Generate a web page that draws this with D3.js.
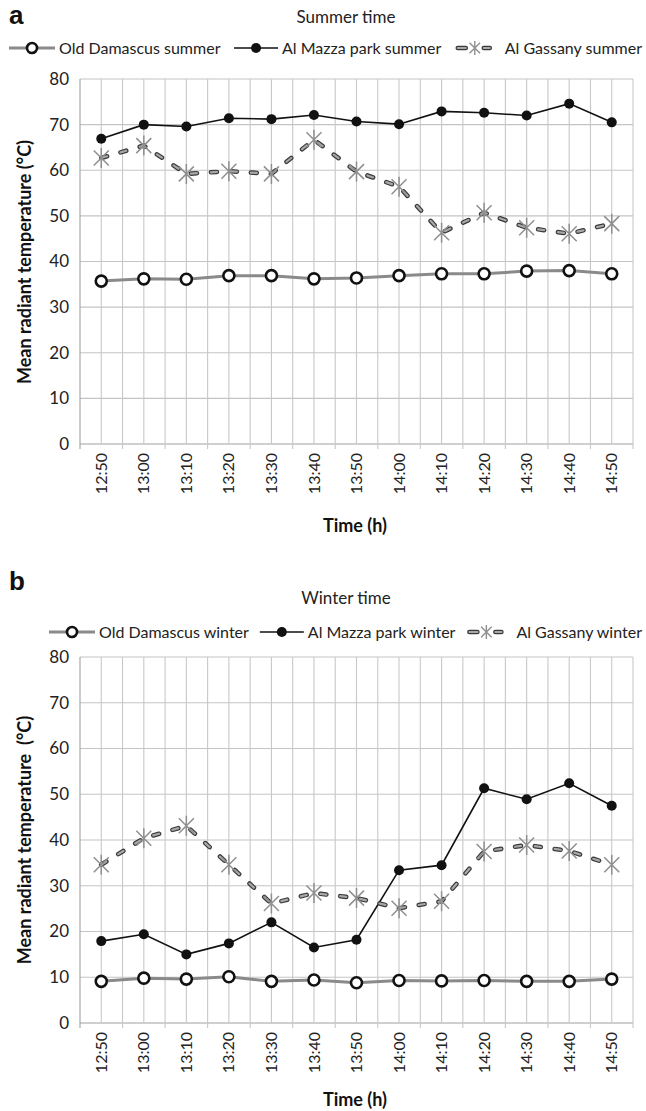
<!DOCTYPE html>
<html><head><meta charset="utf-8">
<script src="https://cdn.jsdelivr.net/npm/d3@7"></script>
<style>
html,body{margin:0;padding:0;background:#fff;}
svg{display:block;font-family:Lato, "Open Sans", sans-serif;}
</style></head>
<body><svg id="c" width="646" height="1111"></svg>
<script>
const times = ["12:50","13:00","13:10","13:20","13:30","13:40","13:50","14:00","14:10","14:20","14:30","14:40","14:50"];
const yTicks = [0,10,20,30,40,50,60,70,80];

const oldDamascusSummer = [35.7,36.2,36.1,36.9,36.9,36.2,36.4,36.9,37.3,37.3,37.9,38.0,37.3];
const alMazzaSummer     = [66.9,70.0,69.6,71.4,71.2,72.1,70.7,70.1,72.9,72.6,72.0,74.6,70.5];
const alGassanySummer   = [62.7,65.4,59.2,59.8,59.2,66.7,59.7,56.4,46.3,50.7,47.4,46.1,48.3];

const oldDamascusWinter = [9.1,9.8,9.6,10.1,9.1,9.4,8.8,9.3,9.2,9.3,9.1,9.1,9.6];
const alMazzaWinter     = [17.9,19.4,15.0,17.4,22.0,16.5,18.2,33.4,34.5,51.3,48.9,52.4,47.5];
const alGassanyWinter   = [34.6,40.4,43.1,34.6,26.1,28.4,27.3,25.1,26.6,37.5,38.9,37.6,34.6];

const summerNames = ["Old Damascus summer","Al Mazza park summer","Al Gassany summer"];
const winterNames = ["Old Damascus winter","Al Mazza park winter","Al Gassany winter"];

const svg = d3.select("#c");
const DASH = "6,14";

function starPath(r){
  const d = r*0.75;
  return `M${-d},${-d}L${d},${d}M${-d},${d}L${d},${-d}M0,${-r}L0,${r}`;
}

function drawPanel(o){
  const g = svg.append("g");
  const L = 80, R = 633;
  const x = d3.scaleBand().domain(times).range([L,R]);
  const y = d3.scaleLinear().domain([0,80]).range([o.bottom,o.top]);
  const bw = x.bandwidth();

  g.append("text").attr("x",9).attr("y",o.letterY).attr("font-family","Liberation Sans, Arial, sans-serif")
    .attr("font-weight","bold").attr("font-size",26).attr("fill","#111").text(o.letter);
  g.append("text").attr("x",346).attr("y",o.titleY).attr("text-anchor","middle")
    .attr("font-size",17).attr("fill","#222").text(o.title);

  const grid = g.append("g");
  yTicks.forEach(t=>{
    grid.append("line").attr("x1",L).attr("x2",R).attr("y1",y(t)).attr("y2",y(t))
      .attr("stroke", t===0 ? "#a0a0a0" : "#c4c4c4").attr("stroke-width",1.2);
  });
  const vx = [];
  times.forEach(t=>{ vx.push(x(t)); vx.push(x(t)+bw/2); });
  vx.push(R);
  vx.forEach((vv,i)=>{
    grid.append("line").attr("x1",vv).attr("x2",vv).attr("y1",o.top).attr("y2",o.bottom + (i%2===0 ? 5 : 0))
      .attr("stroke", i===0 ? "#a0a0a0" : "#c8c8c8").attr("stroke-width",1.1);
  });

  const ya = g.append("g").attr("transform",`translate(${L},0)`)
    .call(d3.axisLeft(y).tickValues(yTicks).tickSize(0).tickPadding(11));
  ya.select(".domain").remove();
  ya.selectAll("text").attr("font-size",17).attr("fill","#222").attr("font-family","Lato, sans-serif");

  const xa = g.append("g").attr("transform",`translate(0,${o.bottom})`)
    .call(d3.axisBottom(x).tickSize(0).tickPadding(0));
  xa.select(".domain").remove();
  xa.selectAll("text").attr("font-size",16).attr("fill","#222").attr("font-family","Lato, sans-serif")
    .attr("text-anchor","end").attr("transform","translate(0,9) rotate(-90)").attr("dy","0.35em").attr("dx",0);

  g.append("text").attr("x",355).attr("y",o.xTitleY).attr("text-anchor","middle")
    .attr("font-weight","bold").attr("font-size",18).attr("fill","#111").text("Time (h)");
  g.append("text").attr("transform",`translate(31,${o.yTitleY}) rotate(-90)`).attr("text-anchor","middle")
    .attr("font-weight","bold").attr("font-size",18).attr("fill","#111").attr("xml:space","preserve")
    .text(o.yTitle);

  const cx = (d,i)=> x(times[i]) + bw/2;
  const line = d3.line().x((d,i)=>cx(d,i)).y(d=>y(d));

  g.append("path").attr("d",line(o.s1)).attr("fill","none").attr("stroke","#8a8a8a").attr("stroke-width",3);
  g.append("path").attr("d",line(o.s2)).attr("fill","none").attr("stroke","#111").attr("stroke-width",1.6);
  g.append("path").attr("d",line(o.s3)).attr("fill","none").attr("stroke","#3a3a3a").attr("stroke-width",4.6)
    .attr("stroke-dasharray",DASH).attr("stroke-linecap","round");
  g.append("path").attr("d",line(o.s3)).attr("fill","none").attr("stroke","#a8a8a8").attr("stroke-width",2.2)
    .attr("stroke-dasharray",DASH).attr("stroke-linecap","round");

  g.selectAll(".m1").data(o.s1).join("circle").attr("cx",cx).attr("cy",d=>y(d)).attr("r",5.5)
    .attr("fill","#fff").attr("stroke","#111").attr("stroke-width",2.6);
  g.selectAll(".m2").data(o.s2).join("circle").attr("cx",cx).attr("cy",d=>y(d)).attr("r",5)
    .attr("fill","#111");
  g.selectAll(".m3").data(o.s3).join("path").attr("transform",(d,i)=>`translate(${cx(d,i)},${y(d)})`)
    .attr("d",starPath(10)).attr("stroke","#8f8f8f").attr("stroke-width",1.5).attr("fill","none");

  // legend: measure, then distribute between start and end
  const lg = g.append("g").attr("transform",`translate(0,${o.legendY})`);
  const symW = [46,44,38], symGap = [4,4,12];
  const texts = o.names.map(nm => lg.append("text").attr("y",0).attr("dy","0.35em").attr("font-size",16)
      .attr("fill","#222").text(nm));
  const widths = texts.map(t => t.node().getComputedTextLength());
  const used = d3.sum(widths) + d3.sum(symW) + d3.sum(symGap);
  const gap = (o.legendEnd - o.legendStart - used) / 2;
  let xs = o.legendStart;
  o.names.forEach((nm,k)=>{
    const sx = xs;
    if(k===0){
      lg.append("line").attr("x1",sx).attr("x2",sx+46).attr("y1",0).attr("y2",0).attr("stroke","#8a8a8a").attr("stroke-width",3);
      lg.append("circle").attr("cx",sx+23).attr("cy",0).attr("r",5).attr("fill","#fff").attr("stroke","#111").attr("stroke-width",2.6);
    } else if(k===1){
      lg.append("line").attr("x1",sx).attr("x2",sx+44).attr("y1",0).attr("y2",0).attr("stroke","#111").attr("stroke-width",1.6);
      lg.append("circle").attr("cx",sx+22).attr("cy",0).attr("r",5).attr("fill","#111");
    } else {
      [[sx+3,sx+11],[sx+29,sx+35]].forEach(s=>{
        lg.append("line").attr("x1",s[0]).attr("x2",s[1]).attr("y1",0).attr("y2",0).attr("stroke","#3a3a3a").attr("stroke-width",4.6).attr("stroke-linecap","round");
        lg.append("line").attr("x1",s[0]).attr("x2",s[1]).attr("y1",0).attr("y2",0).attr("stroke","#a8a8a8").attr("stroke-width",2.2).attr("stroke-linecap","round");
      });
      lg.append("path").attr("transform",`translate(${sx+20},0)`).attr("d",starPath(7)).attr("stroke","#8f8f8f").attr("stroke-width",1.4).attr("fill","none");
    }
    texts[k].attr("x", sx + symW[k] + symGap[k]);
    xs = sx + symW[k] + symGap[k] + widths[k] + gap;
  });
}

drawPanel({letter:"a", letterY:24, title:"Summer time", titleY:23, legendY:48, legendStart:9, legendEnd:642,
  names:summerNames,
  top:79, bottom:444, xTitleY:532, yTitleY:262, yTitle:"Mean radiant temperature (°C)",
  s1:oldDamascusSummer, s2:alMazzaSummer, s3:alGassanySummer});

drawPanel({letter:"b", letterY:590, title:"Winter time", titleY:604, legendY:632, legendStart:49, legendEnd:642,
  names:winterNames,
  top:657, bottom:1023, xTitleY:1106, yTitleY:840, yTitle:"Mean radiant temperature  (°C)",
  s1:oldDamascusWinter, s2:alMazzaWinter, s3:alGassanyWinter});
</script>
</body></html>
